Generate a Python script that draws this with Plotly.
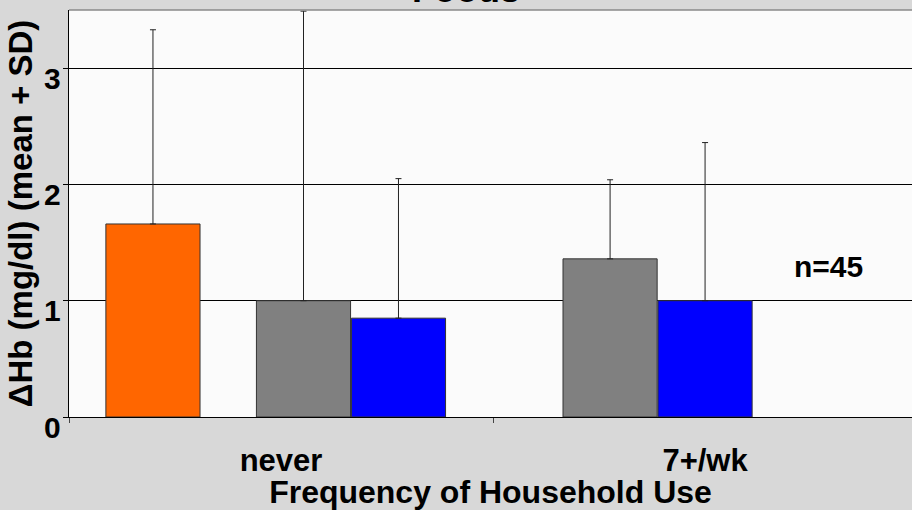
import plotly.graph_objects as go

# ---- data ----
categories = ["never", "7+/wk"]
all_mean = [1.66]
all_sd = [1.67]
grey_mean = [1.0, 1.36]
grey_sd = [2.49, 0.68]
blue_mean = [0.85, 1.0]
blue_sd = [1.20, 1.36]
y_ticks = [0, 1, 2, 3]
y_tick_labels = ["0", "1", "2", "3"]

FONT = "Arial, Liberation Sans, sans-serif"
BAR_W = 0.222
EB = dict(type="data", symmetric=False, color="#222222", thickness=1, width=3)

fig = go.Figure()
fig.add_trace(go.Bar(
    x=categories[:1], y=all_mean, width=BAR_W, offset=-0.413,
    marker=dict(color="#FF6600", line=dict(color="#333333", width=1)),
    error_y=dict(array=all_sd, arrayminus=[0] * len(all_sd), **EB),
    showlegend=False,
))
fig.add_trace(go.Bar(
    x=categories, y=grey_mean, width=BAR_W, offset=[-0.058, -0.335],
    marker=dict(color="#808080", line=dict(color="#333333", width=1)),
    error_y=dict(array=grey_sd, arrayminus=[0] * len(grey_sd), **EB),
    showlegend=False,
))
fig.add_trace(go.Bar(
    x=categories, y=blue_mean, width=BAR_W, offset=[0.166, -0.111],
    marker=dict(color="#0000FF", line=dict(color="#333333", width=1)),
    error_y=dict(array=blue_sd, arrayminus=[0] * len(blue_sd), **EB),
    showlegend=False,
))

annotations = []
for v, t in zip(y_ticks, y_tick_labels):
    annotations.append(dict(
        x=0, xref="paper", y=v, yref="y", text=t, showarrow=False,
        xanchor="right", yanchor="middle", xshift=-6, yshift=-10,
        font=dict(family=FONT, size=30, color="black", weight="bold"),
    ))
annotations.append(dict(
    x=0.471, xref="paper", y=0.995, yref="paper", text="Foods", showarrow=False,
    xanchor="center", yanchor="bottom",
    font=dict(family=FONT, size=36, color="black", weight="bold"),
))
annotations.append(dict(
    x=0.9015, xref="paper", y=0.371, yref="paper", text="n=45", showarrow=False,
    xanchor="center", yanchor="middle",
    font=dict(family=FONT, size=30, color="black", weight="bold"),
))

fig.update_layout(
    width=912, height=510,
    margin=dict(l=69, r=0, t=10, b=93),
    paper_bgcolor="#d8d8d8",
    plot_bgcolor="#fbfbfb",
    barmode="overlay",
    annotations=annotations,
    shapes=[dict(type="line", xref="paper", yref="paper", x0=0, x1=1, y0=1, y1=1,
                 line=dict(color="#8a8a8a", width=1.5))],
    xaxis=dict(
        type="category", categoryorder="array", categoryarray=categories,
        range=[-0.5, 1.488],
        showline=True, linecolor="black", linewidth=1,
        ticks="outside", tickson="boundaries", ticklen=5, tickcolor="#444",
        ticklabelstandoff=16,
        showgrid=False, zeroline=False,
        tickfont=dict(family=FONT, size=31, color="black", weight="bold"),
        title=dict(text="Frequency of Household Use", standoff=4,
                   font=dict(family=FONT, size=32, color="black", weight="bold")),
    ),
    yaxis=dict(
        range=[0, 3.5], tickvals=y_ticks, showticklabels=False,
        showline=True, linecolor="black", linewidth=1,
        ticks="outside", ticklen=5, tickcolor="black",
        showgrid=True, gridcolor="black", gridwidth=1, zeroline=False,
        title=dict(text="ΔHb (mg/dl) (mean + SD)", standoff=20,
                   font=dict(family=FONT, size=33, color="black", weight="bold")),
    ),
)

fig.write_html("out.html", config={"displayModeBar": False},
               post_script="document.body.style.margin='0';")
